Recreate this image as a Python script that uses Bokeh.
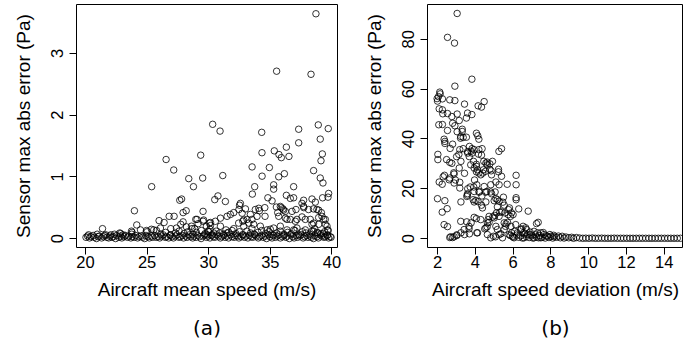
from bokeh.plotting import figure
from bokeh.layouts import row
from bokeh.models import FixedTicker, Title, Range1d
from bokeh.embed import file_html
from bokeh.resources import INLINE

# ---------------- Panel (a): mean speed vs max abs error ----------------
a_xticks = [20, 25, 30, 35, 40]
a_yticks = [0, 1, 2, 3]

a_sparse_x = [
    38.70, 35.51, 38.30, 30.32, 30.92, 34.30, 37.30, 38.89, 39.70, 29.35,
    26.54, 37.30, 39.05, 36.30, 35.32, 35.70, 35.89, 36.51, 34.32, 39.22,
    39.11, 27.16, 31.14, 33.52, 34.92, 34.33, 35.68, 36.14, 38.51, 39.05,
    39.27, 25.37, 28.38, 28.76, 29.51, 35.27, 35.27, 36.89, 33.73, 36.30,
    30.75, 30.49, 31.35, 27.80, 27.65, 33.54, 34.80, 35.14, 36.62, 36.89,
    37.70, 38.38, 38.65, 39.24, 39.73, 39.68, 23.97, 24.16, 29.54, 27.92,
    28.17, 25.97, 26.38, 26.79, 27.19, 32.50, 32.45, 32.03, 31.76, 31.49,
    35.49, 35.89, 36.08, 35.60, 36.76, 37.08, 37.71, 38.10, 38.50, 38.92,
    39.14, 38.92, 39.33, 33.78, 34.11, 33.51, 32.84, 32.43, 34.57, 36.35,
    37.03, 37.84, 38.38, 39.60, 30.95, 30.54, 30.14, 32.57, 32.98, 34.06,
    34.55, 35.81, 36.03, 36.22, 37.57, 37.70, 38.78, 39.19, 39.46, 39.46,
    39.65, 39.65, 32.71, 33.38, 33.92, 35.68, 36.22, 36.62, 37.16, 37.57,
    38.24, 38.51, 38.92, 32.84, 33.65, 34.19, 34.73, 35.27, 35.81, 36.35,
    37.16, 37.84, 38.38, 38.84, 39.32, 21.38, 22.78, 22.05, 23.73, 24.95,
    25.35, 25.76, 26.92, 27.38, 28.19, 28.60, 28.86, 29.81, 29.95, 28.95,
    27.92, 27.73, 29.14, 29.54, 30.06, 28.65, 29.05, 29.59, 30.14, 30.95,
    32.03, 32.76, 33.11, 33.24, 31.49, 30.41, 29.86, 22.84, 23.78, 24.46,
    25.00, 25.54, 26.08,
]
a_sparse_y = [
    3.64, 2.71, 2.66, 1.85, 1.74, 1.72, 1.77, 1.84, 1.78, 1.35,
    1.28, 1.55, 1.61, 1.48, 1.42, 1.36, 1.31, 1.33, 1.39, 1.37,
    1.26, 1.11, 1.02, 1.16, 1.15, 1.01, 1.00, 1.05, 1.10, 0.98,
    0.90, 0.84, 0.97, 0.84, 0.98, 0.87, 0.80, 0.84, 0.84, 0.70,
    0.69, 0.63, 0.60, 0.64, 0.62, 0.72, 0.66, 0.61, 0.65, 0.66,
    0.62, 0.64, 0.59, 0.66, 0.73, 0.67, 0.45, 0.22, 0.44, 0.42,
    0.45, 0.29, 0.26, 0.36, 0.36, 0.54, 0.47, 0.42, 0.39, 0.36,
    0.51, 0.50, 0.46, 0.42, 0.44, 0.47, 0.50, 0.47, 0.48, 0.46,
    0.42, 0.34, 0.31, 0.47, 0.45, 0.31, 0.30, 0.25, 0.36, 0.31,
    0.28, 0.31, 0.23, 0.20, 0.33, 0.28, 0.21, 0.57, 0.48, 0.49,
    0.50, 0.52, 0.48, 0.44, 0.57, 0.52, 0.47, 0.36, 0.31, 0.23,
    0.14, 0.06, 0.41, 0.39, 0.36, 0.36, 0.33, 0.31, 0.31, 0.35,
    0.31, 0.25, 0.23, 0.20, 0.23, 0.20, 0.14, 0.17, 0.20, 0.14,
    0.17, 0.14, 0.12, 0.09, 0.08, 0.16, 0.09, 0.06, 0.12, 0.13,
    0.15, 0.13, 0.16, 0.17, 0.19, 0.20, 0.16, 0.20, 0.12, 0.31,
    0.27, 0.23, 0.24, 0.28, 0.25, 0.16, 0.31, 0.30, 0.26, 0.20,
    0.16, 0.28, 0.31, 0.25, 0.09, 0.09, 0.06, 0.08, 0.10, 0.14,
    0.11, 0.14, 0.17,
]

a_band_x = [
    20.04, 20.17, 20.33, 20.45, 20.62, 20.71, 20.89, 21.03, 21.12, 21.31,
    21.46, 21.55, 21.73, 21.88, 21.97, 22.15, 22.26, 22.44, 22.53, 22.71,
    22.84, 22.95, 23.12, 23.24, 23.41, 23.50, 23.68, 23.79, 23.96, 24.07,
    24.23, 24.35, 24.52, 24.63, 24.80, 24.91, 25.07, 25.18, 25.36, 25.45,
    25.63, 25.74, 25.91, 26.02, 26.19, 26.30, 26.47, 26.58, 26.75, 26.86,
    27.03, 27.14, 27.31, 27.43, 27.58, 27.70, 27.87, 27.96, 28.14, 28.25,
    28.42, 28.53, 28.70, 28.81, 28.98, 29.09, 29.26, 29.38, 29.54, 29.65,
    29.82, 29.93, 30.10, 30.21, 30.38, 30.49, 30.66, 30.78, 30.94, 31.05,
    31.22, 31.33, 31.50, 31.61, 31.78, 31.90, 32.06, 32.17, 32.34, 32.45,
    32.62, 32.73, 32.90, 33.01, 33.18, 33.30, 33.46, 33.57, 33.74, 33.85,
    34.02, 34.13, 34.30, 34.42, 34.58, 34.69, 34.86, 34.97, 35.14, 35.25,
    35.42, 35.54, 35.70, 35.81, 35.98, 36.09, 36.26, 36.37, 36.54, 36.66,
    36.82, 36.93, 37.10, 37.21, 37.38, 37.49, 37.66, 37.78, 37.94, 38.05,
    38.22, 38.33, 38.50, 38.61, 38.78, 38.90, 39.06, 39.17, 39.34, 39.45,
    39.62, 39.73, 39.86, 39.93, 20.25, 20.95, 21.65, 22.35, 23.05, 23.75,
]
a_band_y = [
    0.02, 0.04, 0.01, 0.03, 0.05, 0.02, 0.00, 0.03, 0.04, 0.01,
    0.03, 0.05, 0.02, 0.01, 0.04, 0.02, 0.03, 0.00, 0.05, 0.02,
    0.04, 0.01, 0.03, 0.05, 0.02, 0.04, 0.01, 0.03, 0.02, 0.05,
    0.01, 0.03, 0.04, 0.02, 0.00, 0.05, 0.03, 0.01, 0.04, 0.02,
    0.05, 0.02, 0.03, 0.01, 0.04, 0.06, 0.02, 0.03, 0.01, 0.05,
    0.03, 0.01, 0.04, 0.06, 0.02, 0.03, 0.05, 0.01, 0.04, 0.02,
    0.06, 0.03, 0.01, 0.04, 0.02, 0.05, 0.03, 0.00, 0.04, 0.06,
    0.02, 0.04, 0.01, 0.05, 0.03, 0.02, 0.06, 0.04, 0.01, 0.03,
    0.05, 0.02, 0.04, 0.01, 0.06, 0.03, 0.02, 0.05, 0.04, 0.01,
    0.03, 0.06, 0.02, 0.04, 0.01, 0.05, 0.03, 0.02, 0.06, 0.04,
    0.01, 0.03, 0.05, 0.02, 0.04, 0.00, 0.06, 0.03, 0.01, 0.05,
    0.02, 0.04, 0.06, 0.01, 0.03, 0.05, 0.02, 0.04, 0.00, 0.06,
    0.03, 0.01, 0.05, 0.02, 0.04, 0.06, 0.01, 0.03, 0.05, 0.02,
    0.04, 0.02, 0.00, 0.05, 0.03, 0.01, 0.06, 0.04, 0.02, 0.03,
    0.05, 0.01, 0.03, 0.02, 0.06, 0.07, 0.06, 0.07, 0.06, 0.07,
]

a_upper_band_x = [
    26.1, 26.5, 26.9, 27.3, 27.6, 28.0, 28.3, 28.7, 29.0, 29.4,
    29.7, 30.0, 30.3, 30.6, 30.9, 31.2, 31.6, 31.9, 32.2, 32.5,
    32.8, 33.1, 33.4, 33.7, 34.0, 34.3, 34.6, 34.9, 35.2, 35.5,
    35.8, 36.1, 36.4, 36.7, 37.0, 37.3, 37.6, 37.9, 38.2, 38.5,
    38.8, 39.1, 39.4, 39.7, 30.1, 31.4, 33.5, 35.0, 36.9, 38.6,
]
a_upper_band_y = [
    0.07, 0.10, 0.06, 0.09, 0.12, 0.08, 0.11, 0.07, 0.10, 0.13,
    0.08, 0.11, 0.06, 0.12, 0.09, 0.07, 0.10, 0.13, 0.08, 0.11,
    0.06, 0.12, 0.09, 0.07, 0.10, 0.13, 0.08, 0.11, 0.06, 0.09,
    0.12, 0.07, 0.10, 0.08, 0.13, 0.06, 0.11, 0.09, 0.07, 0.12,
    0.10, 0.08, 0.11, 0.13, 0.15, 0.14, 0.16, 0.15, 0.14, 0.16,
]

# ---------------- Panel (b): speed deviation vs max abs error ----------------
b_xticks = [2, 4, 6, 8, 10, 12, 14]
b_yticks = [0, 20, 40, 60, 80]

b_sparse_x = [
    3.04, 2.53, 2.90, 3.82, 2.92, 2.12, 2.14, 2.05, 1.98, 2.00,
    2.26, 2.65, 2.92, 3.43, 4.47, 4.15, 4.33, 2.09, 2.26, 2.28,
    2.53, 3.04, 3.82, 3.59, 3.53, 2.76, 2.80, 3.15, 2.07, 2.26,
    2.92, 2.53, 3.31, 3.31, 3.04, 4.06, 4.13, 3.23, 3.36, 3.53,
    3.22, 4.19, 2.35, 2.39, 2.39, 2.80, 3.69, 2.67, 3.83, 3.94,
    3.78, 4.19, 4.36, 5.39, 5.25, 3.18, 3.36, 3.60, 3.83, 3.13,
    2.02, 2.02, 2.48, 2.65, 2.76, 3.01, 4.17, 4.33, 4.45, 4.63,
    4.77, 4.63, 4.43, 4.40, 4.54, 4.77, 4.84, 5.23, 5.23, 4.86,
    5.39, 6.16, 6.16, 5.69, 6.16, 6.16, 4.06, 4.06, 3.96, 4.06,
    4.19, 2.86, 3.43, 2.30, 2.37, 2.65, 2.95, 2.09, 2.25, 3.18,
    3.18, 3.60, 3.73, 3.92, 4.20, 4.54, 5.05, 4.86, 3.58, 2.00,
    2.39, 3.94, 4.15, 4.33, 5.00, 5.17, 5.49, 5.46, 5.26, 2.51,
    2.25, 6.30, 6.80, 5.30, 5.12, 5.81, 5.92, 5.86, 6.00, 3.23,
    3.55, 3.78, 3.67, 3.67, 3.69, 4.08, 3.43, 2.53, 3.02, 3.02,
    2.65, 2.80, 4.06, 3.94, 4.50, 4.63, 4.93, 5.03, 5.07, 4.96,
    5.35, 5.60, 5.63, 5.71, 5.92, 6.09, 6.44, 6.53, 6.71, 7.24,
    7.33, 4.68, 4.73, 5.56, 5.74, 5.53, 5.88, 6.14, 6.41, 6.67,
    6.23, 6.58, 6.76, 6.94, 7.11, 7.29, 7.47, 7.64, 7.82, 8.00,
    8.17, 5.79, 5.97, 5.26, 4.64, 4.82, 5.44, 6.05, 6.58, 7.11,
    7.47, 5.17, 5.53, 5.09, 4.56, 4.64, 4.29, 4.73, 5.00, 4.12,
    2.70, 2.88, 3.24, 3.41, 2.35, 3.24, 3.59, 3.89, 4.03, 4.35,
    4.38, 4.56, 4.82, 5.09, 5.17, 5.53, 5.39, 5.76, 5.26, 2.88,
    4.56, 4.91, 5.09, 5.26, 4.82, 4.47, 4.61, 4.29, 4.12, 3.94,
    3.76, 3.91, 3.68, 3.59, 4.08, 3.94, 4.21, 3.55, 3.24, 3.15,
    2.88, 2.62,
]
b_sparse_y = [
    90.4, 80.8, 78.5, 64.0, 61.2, 58.8, 58.1, 57.0, 56.2, 55.2,
    56.1, 55.7, 55.4, 54.0, 55.0, 53.3, 52.8, 52.1, 51.7, 50.1,
    50.2, 50.0, 49.8, 50.4, 48.4, 49.0, 46.3, 47.4, 45.7, 45.8,
    45.3, 43.4, 43.9, 43.0, 42.9, 42.3, 41.3, 41.0, 40.6, 40.7,
    40.3, 39.9, 39.9, 39.0, 38.2, 37.9, 37.0, 36.2, 36.1, 35.7,
    35.1, 35.7, 36.1, 36.1, 35.0, 35.7, 36.1, 34.3, 34.3, 33.8,
    33.8, 31.7, 31.7, 30.6, 30.2, 32.9, 33.9, 33.5, 31.0, 30.7,
    30.0, 29.6, 27.6, 26.3, 27.0, 27.8, 27.2, 27.8, 26.8, 25.6,
    25.0, 25.4, 21.6, 21.8, 16.4, 15.6, 29.8, 29.0, 23.5, 26.8,
    26.3, 26.4, 26.2, 24.8, 25.4, 24.3, 23.5, 22.7, 21.8, 22.6,
    20.3, 20.0, 20.7, 20.7, 18.6, 18.6, 18.7, 18.0, 17.4, 16.0,
    15.2, 14.7, 14.8, 13.4, 15.2, 15.6, 16.6, 14.6, 15.0, 12.0,
    10.6, 11.9, 11.0, 10.6, 10.3, 12.3, 10.3, 8.9, 9.6, 6.9,
    6.7, 6.3, 4.9, 3.9, 1.9, 2.3, 1.6, 4.8, 1.5, 1.2,
    0.4, 0.4, 8.0, 8.5, 3.9, 4.7, 8.7, 9.3, 0.7, 0.9,
    1.9, 4.9, 5.9, 6.5, 2.3, 2.9, 3.9, 4.9, 3.6, 6.0,
    6.5, 7.6, 6.5, 10.3, 9.6, 3.6, 4.9, 5.6, 3.6, 4.3,
    2.3, 2.3, 1.6, 1.6, 2.9, 2.3, 2.3, 1.6, 0.9, 0.9,
    0.7, 1.6, 0.9, 1.6, 1.6, 0.3, 0.3, 0.3, 0.3, 0.3,
    0.3, 3.6, 6.3, 4.9, 4.3, 6.3, 7.6, 8.9, 8.3, 2.3,
    0.7, 0.7, 2.3, 3.6, 5.6, 14.7, 18.0, 15.6, 15.3, 17.1,
    12.3, 14.7, 18.7, 16.0, 12.7, 13.4, 10.7, 11.6, 8.9, 22.3,
    30.3, 31.0, 22.7, 21.6, 21.6, 20.9, 18.9, 25.6, 27.6, 28.3,
    29.6, 31.0, 32.9, 34.9, 21.6, 18.9, 18.9, 16.9, 31.0, 28.3,
    25.9, 23.6,
]

b_low_x = [
    5.85, 6.00, 6.20, 6.30, 6.40, 6.50, 6.62, 6.70, 6.85, 6.90,
    7.00, 7.05, 7.18, 7.25, 7.35, 7.40, 7.55, 7.60, 7.70, 7.75,
    7.90, 7.95, 8.10, 8.15, 8.30, 8.40, 8.50, 8.60, 8.70, 8.80,
    8.95, 9.10, 9.20, 9.35, 9.52, 9.69, 9.85, 10.02, 10.19, 10.35,
    10.52, 10.69, 10.85, 11.02, 11.19, 11.35, 11.52, 11.69, 11.85, 12.02,
    12.19, 12.35, 12.52, 12.69, 12.85, 13.02, 13.19, 13.35, 13.52, 13.69,
    13.85, 14.02, 14.19, 14.35, 14.52, 14.69, 14.86,
]
b_low_y = [
    1.2, 0.6, 1.4, 0.5, 1.1, 0.2, 1.8, 0.8, 0.4, 2.6,
    1.1, 0.2, 1.5, 0.6, 0.3, 1.2, 0.5, 2.4, 0.2, 1.1,
    0.4, 1.6, 0.2, 1.3, 0.5, 1.0, 0.3, 0.9, 0.2, 0.6,
    0.3, 0.5, 0.1, 0.4, 0.2, 0.1, 0.15, 0.1, 0.2, 0.1,
    0.1, 0.15, 0.1, 0.1, 0.1, 0.15, 0.1, 0.1, 0.1, 0.1,
    0.1, 0.1, 0.1, 0.1, 0.1, 0.1, 0.1, 0.1, 0.1, 0.1,
    0.1, 0.1, 0.1, 0.1, 0.1, 0.1, 0.1,
]

assert len(a_sparse_x) == len(a_sparse_y)
assert len(a_band_x) == len(a_band_y)
assert len(a_upper_band_x) == len(a_upper_band_y)
assert len(b_sparse_x) == len(b_sparse_y)
assert len(b_low_x) == len(b_low_y)

LABEL_FONT = "Liberation Sans"


def make_panel(width, border_left, border_right, xr, yr, xticks, yticks,
               xlabel, caption):
    p = figure(width=width, height=350,
               x_range=Range1d(*xr), y_range=Range1d(*yr),
               output_backend="svg", toolbar_location=None,
               min_border_left=border_left, min_border_right=border_right,
               min_border_top=4, min_border_bottom=102)
    p.grid.visible = False
    p.outline_line_color = "black"
    p.outline_line_width = 1
    p.background_fill_color = "white"
    p.border_fill_color = "white"
    p.xaxis.ticker = FixedTicker(ticks=xticks)
    p.yaxis.ticker = FixedTicker(ticks=yticks)
    for ax in (p.xaxis[0], p.yaxis[0]):
        ax.axis_line_color = None
        ax.major_tick_out = 7
        ax.major_tick_in = 0
        ax.major_tick_line_color = "black"
        ax.minor_tick_line_color = None
        ax.major_label_text_font = LABEL_FONT
        ax.major_label_text_font_size = "16.5px"
        ax.major_label_text_color = "black"
        ax.axis_label_text_font = LABEL_FONT
        ax.axis_label_text_font_size = "19px"
        ax.axis_label_text_font_style = "normal"
        ax.axis_label_text_color = "black"
    p.xaxis.axis_label = xlabel
    p.yaxis.axis_label = "Sensor max abs error (Pa)"
    p.xaxis.major_label_standoff = 1
    p.xaxis.axis_label_standoff = 8
    p.yaxis.major_label_standoff = 6
    p.yaxis.axis_label_standoff = 15
    p.yaxis.major_label_orientation = "vertical"
    p.add_layout(Title(text=caption, align="center", text_font="DejaVu Sans",
                       text_font_size="20px", text_font_style="normal",
                       text_color="black", standoff=22), "below")
    return p


pa = make_panel(342, 76, 5, (19.27, 40.45), (-0.145, 3.79),
                a_xticks, a_yticks, "Aircraft mean speed (m/s)", "(a)")
pb = make_panel(341, 85, 0, (1.471, 15.02), (-3.6, 94.0),
                b_xticks, b_yticks, "Aircraft speed deviation (m/s)", "(b)")

style = dict(marker="circle", size=6.5, fill_color=None,
             line_color="black", line_width=0.8)
pa.scatter(a_band_x, a_band_y, **style)
pa.scatter(a_upper_band_x, a_upper_band_y, **style)
pa.scatter(a_sparse_x, a_sparse_y, **style)
pb.scatter(b_low_x, b_low_y, **style)
pb.scatter(b_sparse_x, b_sparse_y, **style)

layout = row(pa, pb)
open("out.html", "w").write(file_html(layout, INLINE))
